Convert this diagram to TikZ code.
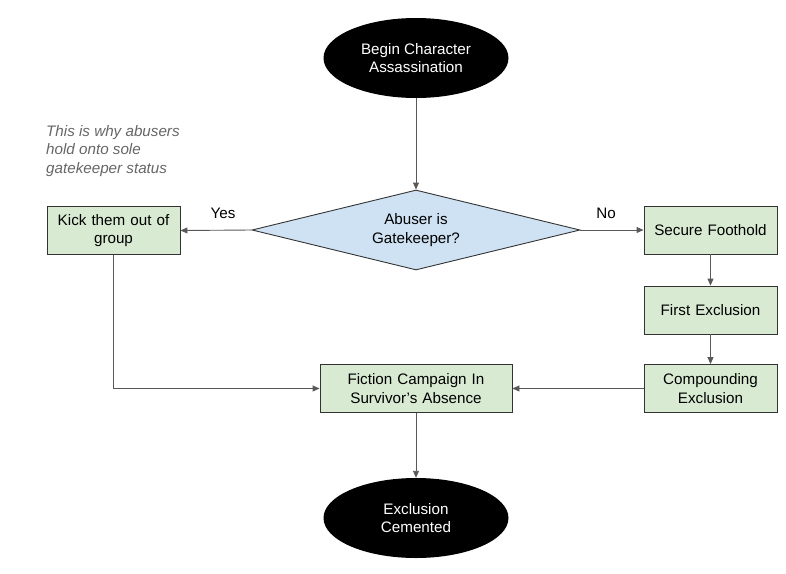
\documentclass[tikz,border=0pt]{standalone}
\usepackage{fontspec}
\setmainfont{Liberation Sans}
\usetikzlibrary{shapes.geometric,arrows.meta}
\definecolor{boxgreen}{HTML}{D9EAD3}
\definecolor{diablue}{HTML}{CFE2F3}
\definecolor{edgegray}{HTML}{333333}
\definecolor{linegray}{HTML}{595959}
\definecolor{notegray}{HTML}{666666}
\begin{document}
\begin{tikzpicture}[x=1pt,y=-1pt,
  every node/.style={font=\fontsize{15.2}{18.8}\selectfont, align=center, inner sep=0pt},
  greenbox/.style={draw=edgegray, fill=boxgreen, line width=0.9pt, minimum width=133pt, minimum height=48pt, text width=128pt},
  blackoval/.style={ellipse, fill=black, text=white, minimum width=185pt, minimum height=80pt},
  decision/.style={diamond, draw=edgegray, fill=diablue, line width=0.9pt, minimum width=328pt, minimum height=80pt, aspect=4.1},
  conn/.style={draw=linegray, line width=0.9pt, -{Triangle[length=7pt,width=6pt]}}
]
\useasboundingbox (0,0) rectangle (786,573);
\node[blackoval] (start) at (416,58) {Begin Character\\Assassination};
\node[decision] (dec) at (416,230) {Abuser is\\Gatekeeper?};
\node[greenbox] (kick) at (113.5,230.5) {Kick them out of\\group};
\node[greenbox] (secure) at (710.5,230) {Secure Foothold};
\node[greenbox] (first) at (710.5,310) {First Exclusion};
\node[greenbox] (comp) at (710.5,388.5) {Compounding\\Exclusion};
\node[greenbox, minimum width=192pt, text width=186pt] (fict) at (416,388.5) {Fiction Campaign In\\Survivor’s Absence};
\node[blackoval] (end) at (416,518) {Exclusion\\Cemented};
\node[anchor=north west, align=left, text=notegray, font=\fontsize{15.2}{18.5}\selectfont\itshape] (note) at (46,125) {This is why abusers\\hold onto sole\\gatekeeper status};
\node (yes) at (223,213.5) {Yes};
\node (no) at (606,213.5) {No};
\draw[conn] (start) -- (dec);
\draw[conn] (dec.west) -- (kick.east);
\draw[conn] (dec.east) -- (secure.west);
\draw[conn] (secure) -- (first);
\draw[conn] (first) -- (comp);
\draw[conn] (comp) -- (fict);
\draw[conn] (kick.south) |- (fict.west);
\draw[conn] (fict) -- (end);
\end{tikzpicture}
\end{document}
